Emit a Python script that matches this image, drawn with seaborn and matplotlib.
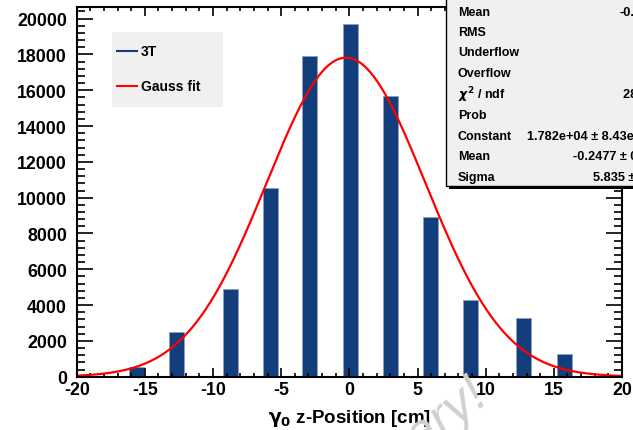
import numpy as np
import matplotlib
matplotlib.use("Agg")
import matplotlib.pyplot as plt
import seaborn as sns
from matplotlib.patches import Rectangle
from matplotlib.lines import Line2D
from matplotlib.ticker import MultipleLocator

# ---------------- data ----------------
z_position = [-15.6, -12.7, -8.75, -5.8, -2.9, 0.05, 3.0, 5.95, 8.9, 12.8, 15.75]
counts = [560, 2480, 4900, 10560, 17930, 19700, 15660, 8940, 4285, 3260, 1250]

fit_constant = 1.782e4
fit_mean = -0.2477
fit_sigma = 5.835

x_ticks = [-20, -15, -10, -5, 0, 5, 10, 15, 20]
y_ticks = [0, 2000, 4000, 6000, 8000, 10000, 12000, 14000, 16000, 18000, 20000]

legend_labels = ["3T", "Gauss fit"]
stat_names = ["Mean", "RMS", "Underflow", "Overflow", r"$\chi^{2}$ / ndf", "Prob",
              "Constant", "Mean", "Sigma"]
stat_values = ["-0.2193", "6.134", "0", "0", "2836 / 8", "0",
               "1.782e+04 \u00b1 8.43e+01", "-0.2477 \u00b1 0.0194", "5.835 \u00b1 0.0149"]

# ---------------- style ----------------
plt.rcParams["font.family"] = ["Liberation Sans", "DejaVu Sans"]
plt.rcParams["font.weight"] = "bold"
plt.rcParams["axes.unicode_minus"] = False
plt.rcParams["axes.linewidth"] = 1.5
plt.rcParams["mathtext.fontset"] = "dejavusans"

W, H = 633, 431
def fx(p):
    return p / W
def fy(p):
    return 1 - p / H

bar_color = "#123f7c"
fig = plt.figure(figsize=(W / 100, H / 100), dpi=100)
ax_l, ax_r, ax_t, ax_b = 76.7, 622.0, 8.0, 377.7
ax = fig.add_axes([fx(ax_l), fy(ax_b), (ax_r - ax_l) / W, (ax_b - ax_t) / H])

bar_w = 1.1
native_unit = np.min(np.diff(np.sort(z_position)))
sns.barplot(x=z_position, y=counts, native_scale=True, width=bar_w / native_unit,
            color=bar_color, saturation=1, edgecolor="#8da0c2", linewidth=0.7, ax=ax)

xs = np.linspace(-20, 20, 500)
gauss = fit_constant * np.exp(-0.5 * ((xs - fit_mean) / fit_sigma) ** 2)
sns.lineplot(x=xs, y=gauss, color="#ff0000", linewidth=1.6, ax=ax, sort=False)

ax.set_xlim(-20, 20)
ax.set_ylim(0, 20650)
ax.set_xticks(x_ticks)
ax.set_yticks(y_ticks)
ax.xaxis.set_minor_locator(MultipleLocator(1))
ax.yaxis.set_minor_locator(MultipleLocator(400))
ax.tick_params(which="both", direction="in", top=True, right=True, width=1.2,
               labelsize=12.8, colors="black")
ax.tick_params(axis="x", which="major", length=6.5, pad=3.0)
ax.tick_params(axis="x", which="minor", length=3.2)
ax.tick_params(axis="y", which="major", length=11.5, pad=7)
ax.tick_params(axis="y", which="minor", length=5.8)
for lab in ax.get_xticklabels() + ax.get_yticklabels():
    lab.set_fontweight("bold")
ax.set_ylabel("")
ax.set_xlabel(r"$\mathrm{\gamma}_{0}$ z-Position [cm]", fontsize=13.5, fontweight="bold",
              labelpad=6.5)
for s in ax.spines.values():
    s.set_color("black")

# ---------------- legend (manual, ROOT-like) ----------------
fig.add_artist(Rectangle((fx(112), fy(108)), (223 - 112) / W, (108 - 33) / H,
                         transform=fig.transFigure, facecolor="#f0f0f0",
                         edgecolor="none", zorder=5))
leg_colors = [bar_color, "#ff0000"]
leg_y = [51.7, 87.3]
for lbl, c, yy in zip(legend_labels, leg_colors, leg_y):
    fig.add_artist(Line2D([fx(117), fx(137)], [fy(yy), fy(yy)], transform=fig.transFigure,
                          color=c, linewidth=1.5, zorder=6))
    fig.text(fx(141), fy(yy), lbl, fontsize=10, fontweight="bold", va="center",
             ha="left", zorder=7)

# ---------------- stats box ----------------
box_l, box_b = 446, 187
fig.add_artist(Rectangle((fx(box_l + 3), fy(box_b + 3)), 300 / W, (box_b + 13) / H,
                         transform=fig.transFigure, facecolor="black",
                         edgecolor="none", zorder=8))
fig.add_artist(Rectangle((fx(box_l), fy(box_b)), 300 / W, (box_b + 10) / H,
                         transform=fig.transFigure, facecolor="#f0f0f0",
                         edgecolor="black", linewidth=1.0, zorder=9))
row_y = [13.3, 33.3, 53.5, 74.0, 95.0, 116.0, 136.7, 157.0, 178.0]
val_x = [620, 650, 650, 650, 623, 650, 527, 572.7, 592.7]
for name, val, yy, vx in zip(stat_names, stat_values, row_y, val_x):
    fig.text(fx(458), fy(yy), name, fontsize=9, fontweight="bold", va="center",
             ha="left", zorder=10)
    fig.text(fx(vx), fy(yy), val, fontsize=9.2, fontweight="bold", va="center",
             ha="left", zorder=10)

# ---------------- watermark ----------------
fig.text(fx(490), fy(400), "Preliminary!", rotation=38, ha="right", va="baseline",
         rotation_mode="anchor", fontsize=38, color="#d0d0d0", style="italic",
         fontweight="normal", zorder=20)

fig.savefig("out.png", dpi=100)
